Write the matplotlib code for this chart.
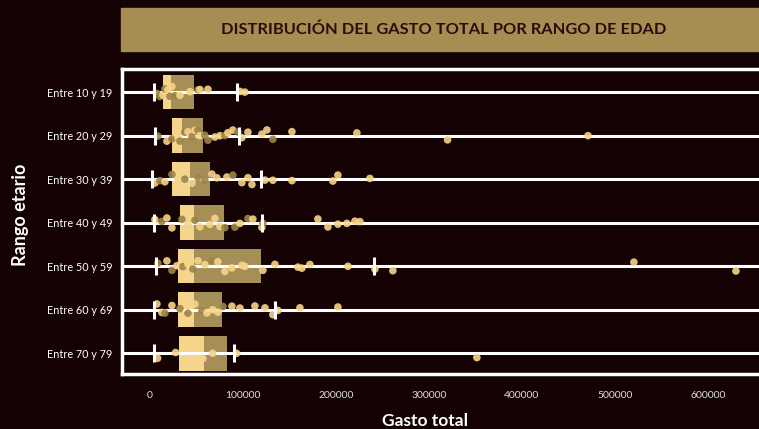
import numpy as np
import matplotlib.pyplot as plt
from matplotlib.patches import Rectangle

# Categories and box statistics (gasto total)
categorias = ['Entre 10 y 19', 'Entre 20 y 29', 'Entre 30 y 39', 'Entre 40 y 49',
              'Entre 50 y 59', 'Entre 60 y 69', 'Entre 70 y 79']
q1 = [13600, 24000, 24000, 32300, 29800, 29800, 31500]
mediana = [22300, 34400, 43000, 47300, 47300, 47300, 58400]
q3 = [47300, 57300, 64800, 79900, 119400, 77100, 82800]
bigote_min = [4600, 5000, 2500, 4300, 6500, 4300, 4300]
bigote_max = [93900, 96000, 119000, 120400, 240900, 134400, 90000]

# Individual observations per age range
gasto_10_19 = [7500, 10800, 14000, 16100, 19400, 21500, 23700, 26900, 32300, 43000,
               51600, 53800, 62400, 96800, 102100]
grupo_10_19 = [1, 1, 0, 1, 0, 1, 0, 1, 0, 0, 1, 0, 0, 0, 0]
gasto_20_29 = [8600, 18300, 23700, 30100, 32300, 37600, 40900, 45200, 48400, 51600,
               53800, 59100, 62400, 69900, 75300, 80600, 83900, 89200, 94600, 98900,
               105400, 120400, 125800, 132200, 152700, 222500, 320000, 471000]
grupo_20_29 = [1, 0, 1, 0, 1, 1, 0, 1, 0, 1, 0, 1, 1, 0, 0, 1, 0, 0, 1, 0,
               0, 0, 0, 1, 0, 0, 0, 0]
gasto_30_39 = [5400, 10800, 16100, 23700, 30100, 37600, 45200, 51600, 59100, 66700,
               72000, 82800, 89200, 98900, 105400, 109700, 123700, 132200, 152700,
               196700, 202100, 236500]
grupo_30_39 = [0, 1, 0, 1, 0, 1, 0, 1, 1, 0, 0, 0, 1, 0, 0, 0, 0, 0, 0, 0, 0, 0]
gasto_40_49 = [5400, 12900, 18300, 23700, 34400, 40900, 48400, 53800, 64500, 69900,
               75300, 80600, 91400, 96800, 105400, 110700, 120400, 121500, 180600,
               191400, 202100, 211800, 220400, 225800]
grupo_40_49 = [0, 1, 0, 0, 1, 0, 1, 0, 0, 0, 0, 1, 1, 0, 1, 0, 0, 1, 0, 0, 0, 0, 0, 0]
gasto_50_59 = [8600, 18300, 23700, 29000, 35500, 40900, 46200, 51600, 59100, 66700,
               73100, 80600, 88200, 98900, 102100, 121500, 134400, 159100, 163400,
               172000, 212900, 241900, 261200, 520300, 630000]
grupo_50_59 = [1, 0, 1, 0, 1, 0, 1, 0, 0, 1, 0, 0, 0, 0, 0, 0, 0, 0, 0, 0, 0, 0, 0, 0, 0]
gasto_60_69 = [7500, 12900, 16100, 23700, 32300, 40900, 48400, 55900, 61300, 67700,
               73100, 78500, 88200, 96800, 112900, 123700, 132200, 137600, 161300, 202100]
grupo_60_69 = [0, 0, 1, 0, 1, 1, 0, 1, 0, 0, 0, 1, 0, 0, 0, 0, 0, 0, 0, 0]
gasto_70_79 = [8300, 27600, 57000, 67400, 93200, 351500]
grupo_70_79 = [0, 0, 0, 0, 0, 0]

gastos = [gasto_10_19, gasto_20_29, gasto_30_39, gasto_40_49, gasto_50_59, gasto_60_69, gasto_70_79]
grupos = [grupo_10_19, grupo_20_29, grupo_30_39, grupo_40_49, grupo_50_59, grupo_60_69, grupo_70_79]

bg = '#140205'
claro = '#F5D48C'
oscuro = '#A68E57'
pt_claro = '#F7D487'
pt_oscuro = '#9C8447'

plt.rcParams['font.family'] = ['Lato', 'DejaVu Sans']

fig = plt.figure(figsize=(7.59, 4.29), dpi=100, facecolor=bg)
# axes runs right up to the figure's right edge (chart is cut there)
ax = fig.add_axes([0.1607, 0.1282, 1 - 0.1607, 0.711], facecolor=bg)

pos = np.arange(len(categorias))

# two-tone boxes: Q1-median light, median-Q3 dark
ax.barh(pos, np.array(mediana) - np.array(q1), left=q1, height=0.8, color=claro, zorder=1)
ax.barh(pos, np.array(q3) - np.array(mediana), left=mediana, height=0.8, color=oscuro, zorder=1)

# whisker caps
ax.plot(bigote_min, pos, ls='none', marker='|', ms=13, mew=2.2, color='white', zorder=4)
ax.plot(bigote_max, pos, ls='none', marker='|', ms=13, mew=2.2, color='white', zorder=4)

# jittered strip of observations
rng = np.random.default_rng(7)
for i, (vals, grp) in enumerate(zip(gastos, grupos)):
    jit = rng.uniform(-0.13, 0.13, len(vals))
    cols = [pt_oscuro if g else pt_claro for g in grp]
    ax.scatter(vals, i + jit, s=30, c=cols, alpha=0.9, linewidths=0, zorder=3)

ax.set_yticks(pos)
ax.set_yticklabels(categorias, fontsize=7.8, color='white')
ax.set_ylim(6.48, -0.53)
ax.set_xlim(-30000, 654800)
ax.set_xticks([0, 100000, 200000, 300000, 400000, 500000, 600000])
ax.set_xticklabels(['0', '100000', '200000', '300000', '400000', '500000', '600000'],
                   fontsize=7.5, color='#dddddd')
ax.tick_params(length=0, pad=12)
ax.tick_params(axis='y', pad=7)

ax.set_axisbelow(False)
ax.yaxis.grid(True, color='white', lw=2.2)
ax.xaxis.grid(False)

# frame: left spine + top/bottom drawn as plain lines (open on the right)
for s in ['right', 'top', 'bottom']:
    ax.spines[s].set_visible(False)
ax.spines['left'].set_color('white')
ax.spines['left'].set_linewidth(2.5)
for yy in (0, 1):
    ax.plot([0, 1], [yy, yy], transform=ax.transAxes, color='white', lw=2.5,
            clip_on=False, solid_capstyle='projecting', zorder=5)

# title banner
fig.patches.append(Rectangle((0.1594, 0.881), 0.9, 0.1002, transform=fig.transFigure,
                             color='#A68D52', zorder=0))
fig.text(0.584, 0.931, 'DISTRIBUCIÓN DEL GASTO TOTAL POR RANGO DE EDAD', ha='center', va='center',
         fontsize=11.8, fontweight='bold', color='#2A0C0C')

fig.text(0.56, 0.0, 'Gasto total', ha='center', va='bottom', fontsize=12.5,
         fontweight='bold', color='white')
fig.text(0.027, 0.5, 'Rango etario', ha='center', va='center', rotation=90,
         fontsize=13, fontweight='bold', color='white')

fig.savefig('out.png', dpi=100, facecolor=bg)
